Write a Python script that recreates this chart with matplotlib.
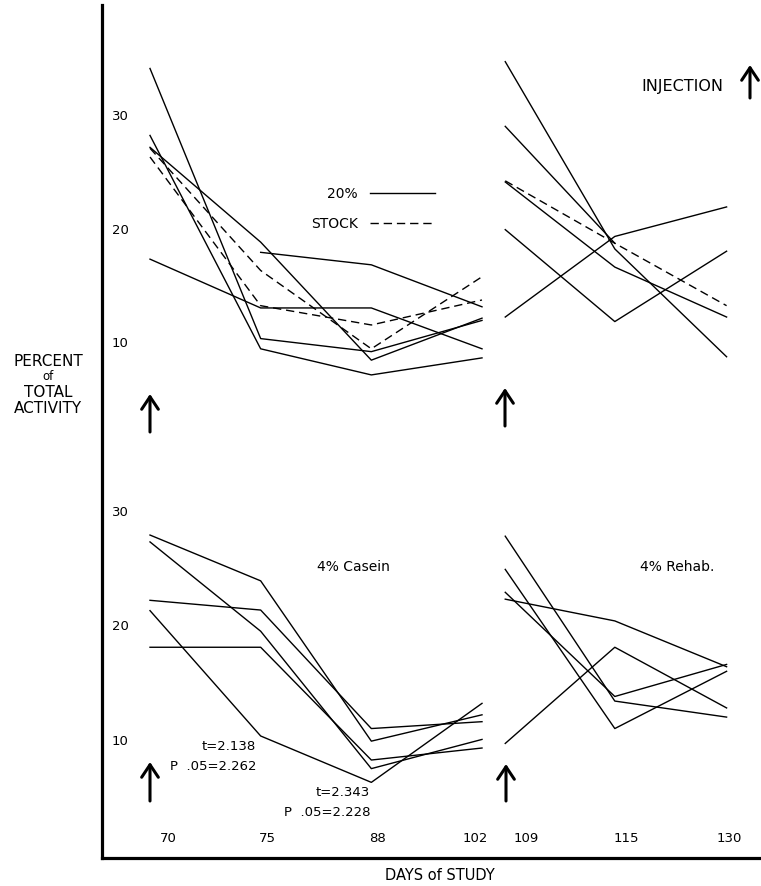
import numpy as np
import matplotlib
matplotlib.use("Agg")
import matplotlib.pyplot as plt
from matplotlib.lines import Line2D

nan = np.nan

# ---------------- data (percent of total activity) ----------------
days_left = [70, 75, 88, 102]
days_right = [109, 115, 130]
day_labels = ["70", "75", "88", "102", "109", "115", "130"]

# 20% diet, days 70-102
top_left_20 = [
    [34.1, 10.3, 9.15, 11.9],
    [28.2, 9.4, 7.1, 8.6],
    [27.15, 18.8, 8.4, 12.1],
    [17.3, 13.0, 13.0, 9.4],
    [nan, 17.9, 16.8, 13.1],
]
# stock diet, days 70-102
top_left_stock = [
    [27.07, 16.3, 9.4, 15.75],
    [26.3, 13.2, 11.5, 13.7],
]
# 20% diet, days 109-130
top_right_20 = [
    [34.7, 18.2, 8.7],
    [29.0, 18.7, nan],
    [24.1, 16.6, 12.2],
    [19.9, 11.8, 18.0],
    [12.2, 19.3, 21.9],
]
top_right_stock = [
    [24.2, 18.7, 13.2],
]
# 4% casein, days 70-102
casein = [
    [27.9, 23.9, 9.9, 12.2],
    [27.3, 19.5, 7.5, 10.05],
    [22.2, 21.35, 11.0, 11.6],
    [21.3, 10.35, 6.3, 13.2],
    [18.1, 18.1, 8.25, 9.3],
]
# 4% rehab., days 109-130
rehab = [
    [27.8, 13.4, 12.0],
    [24.9, 11.0, 16.0],
    [22.9, 13.8, 16.6],
    [22.3, 20.4, 16.4],
    [9.7, 18.1, 12.8],
]

# ---------------- layout ----------------
W, H = 761, 886
day_pos = {70: 0.0, 75: 1.0, 88: 2.0, 102: 3.0, 109: 3.21, 115: 4.2, 130: 5.21}
step = 110.67          # pixels per day slot
x0_px = 150            # pixel of day 70


def u(px):
    return (px - x0_px) / step


fig = plt.figure(figsize=(W / 100, H / 100), dpi=100)
plt.rcParams['font.family'] = ['DejaVu Sans']

left_px, right_px, top_px, bot_px = 102, W, 5, 858
frame = fig.add_axes([left_px / W, (H - bot_px) / H, (right_px - left_px) / W,
                      (bot_px - top_px) / H])
frame.set_xlim(u(left_px), u(right_px))
frame.set_ylim(0, 1)
for s in ['top', 'right']:
    frame.spines[s].set_visible(False)
for s in ['left', 'bottom']:
    frame.spines[s].set_linewidth(2.3)
frame.set_yticks([])
label_px = [168, 267, 378, 475, 526, 626, 729]
frame.set_xticks([u(p) for p in label_px], day_labels)
frame.tick_params(axis='x', length=0, pad=-19, labelsize=9.5)
frame.patch.set_alpha(0)


def panel(y_top, y_bot, ref_px, ref_val, px_per_unit):
    ax = fig.add_axes([left_px / W, (H - y_bot) / H, (right_px - left_px) / W,
                       (y_bot - y_top) / H])
    ax.set_xlim(u(left_px), u(right_px))
    ax.set_ylim(ref_val - (y_bot - ref_px) / px_per_unit,
                ref_val + (ref_px - y_top) / px_per_unit)
    ax.patch.set_alpha(0)
    for s in ax.spines.values():
        s.set_visible(False)
    ax.set_xticks([])
    ax.set_yticks([10, 20, 30])
    ax.tick_params(axis='y', length=0, pad=-19, labelsize=9.5)
    return ax


ax_t = panel(top_px, 455, 342, 10, 11.35)
ax_b = panel(458, bot_px, 740, 10, 11.45)

xl = [day_pos[d] for d in days_left]
xr = [day_pos[d] for d in days_right]
kw = dict(color='black', lw=1.0)
dash = dict(color='black', lw=1.0, dashes=(6, 3.5))

for row in top_left_20:
    ax_t.plot(xl, row, **kw)
for row in top_left_stock:
    ax_t.plot(xl, row, **dash)
for row in top_right_20:
    ax_t.plot(xr, row, **kw)
for row in top_right_stock:
    ax_t.plot(xr, row, **dash)
for row in casein:
    ax_b.plot(xl, row, **kw)
for row in rehab:
    ax_b.plot(xr, row, **kw)

# legend
h20 = Line2D([], [], **kw)
hst = Line2D([], [], **dash)
fig.legend([h20, hst], ['20%', 'STOCK'], loc='center',
           bbox_to_anchor=(373 / W, 1 - 209 / H), frameon=False,
           markerfirst=False, handlelength=4.7, handletextpad=0.9,
           labelspacing=1.2, borderpad=0, fontsize=10)


def px(x, y):
    return (x, H - y)


def arrow(x, y_tail, y_head):
    fig.add_artist(plt.Annotation('', xy=px(x, y_head), xytext=px(x, y_tail),
                                  xycoords='figure pixels', textcoords='figure pixels',
                                  arrowprops=dict(arrowstyle='->,head_length=0.45,head_width=0.3',
                                                  lw=2.2, color='black', mutation_scale=20,
                                                  shrinkA=0, shrinkB=0)))


arrow(150, 432, 394)
arrow(505, 426, 388)
arrow(150, 801, 762)
arrow(506, 801, 764)
arrow(750, 98, 65)


def label(x, y, s, size=10, ha='center', **extra):
    fig.text(x / W, 1 - y / H, s, ha=ha, va='center', fontsize=size, **extra)


label(723, 87, 'INJECTION', 11.5, ha='right')
label(353, 567, '4% Casein', 10)
label(677, 567, '4% Rehab.', 10)
label(256, 747, 't=2.138', 9.5, ha='right')
label(257, 767, 'P  .05=2.262', 9.5, ha='right')
label(370, 793, 't=2.343', 9.5, ha='right')
label(370, 813, 'P  .05=2.228', 9.5, ha='right')
label(440, 875, 'DAYS of STUDY', 10.5)
label(48, 362, 'PERCENT', 11)
label(48, 376, 'of', 8.5)
label(48, 392, 'TOTAL', 11)
label(48, 408, 'ACTIVITY', 11)

fig.savefig('out.png', dpi=100)
